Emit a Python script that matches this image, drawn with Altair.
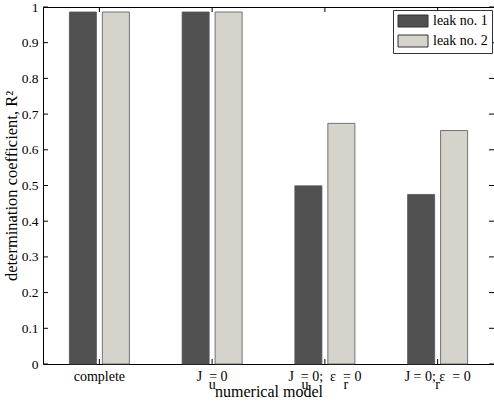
import json
import altair as alt
import pandas as pd

NB = "\u00a0"
models = ["complete", "J_u = 0", "J_u = 0; eps_r = 0", "J = 0; eps_r = 0"]
# tick labels: main line and subscript line (subscripts u and r set below the line)
label_main = ["complete",
              "J" + NB * 2 + "= 0" + NB * 2,
              NB * 4 + "J" + NB * 2 + "= 0;" + NB * 2 + "ε" + NB * 2 + "= 0",
              NB * 5 + "J = 0;" + NB + "ε" + NB * 2 + "= 0"]
label_sub = ["",
             "u" + NB * 6,
             "u" + NB * 10 + "r",
             NB * 10 + "r"]
series = ["leak no. 1", "leak no. 2"]
leak1 = [0.986, 0.986, 0.499, 0.475]
leak2 = [0.986, 0.986, 0.674, 0.654]
y_ticks = [0, 0.1, 0.2, 0.3, 0.4, 0.5, 0.6, 0.7, 0.8, 0.9, 1]

rows = []
for m, a, b in zip(models, leak1, leak2):
    rows.append({"model": m, "series": series[0], "r2": a})
    rows.append({"model": m, "series": series[1], "r2": b})
df = pd.DataFrame(rows)
ydf = pd.DataFrame({"v": y_ticks})
xdf = pd.DataFrame({"model": models})

lab_map = json.dumps({m: [a, b] for m, a, b in zip(models, label_main, label_sub)}, ensure_ascii=False)

W, H = 451, 357
FONT = "Liberation Serif"

xscale = alt.Scale(domain=models, paddingInner=0, paddingOuter=0)
yscale = alt.Scale(domain=[0, 1], nice=False, zero=True)

xaxis = alt.Axis(title="numerical model", ticks=False, labelAngle=0,
                 labelPadding=5, labelFontSize=14, labelLineHeight=8,
                 labelExpr=lab_map + "[datum.value]",
                 titleBaseline="alphabetic", titleY=32, titleFontSize=16,
                 domain=False)
yaxis = alt.Axis(title="determination coefficient, R²", values=y_ticks, ticks=False,
                 labelPadding=5, titlePadding=2, domain=False, grid=False,
                 labelOverlap=False, labelFontSize=13.5, titleFontSize=16.5,
                 labelExpr="datum.value == 0 ? '0' : datum.value == 1 ? '1' : format(datum.value, '.1f')")

bars = alt.Chart(df).mark_bar(stroke="#555555", strokeWidth=0.8).encode(
    x=alt.X("model:N", scale=xscale, sort=models, axis=xaxis),
    xOffset=alt.XOffset("series:N", scale=alt.Scale(domain=series, paddingInner=0.18, paddingOuter=0.8)),
    y=alt.Y("r2:Q", scale=yscale, axis=yaxis),
    color=alt.Color("series:N", scale=alt.Scale(domain=series, range=["#505050", "#d5d3cb"]),
                    legend=alt.Legend(title=None, orient="none", legendX=350, legendY=3,
                                      symbolType="M-2.5,-1H2.5V1H-2.5Z", symbolSize=144,
                                      symbolStrokeColor="#333333", symbolStrokeWidth=1,
                                      symbolOffset=9, labelOffset=13,
                                      labelFont=FONT, labelFontSize=14, labelColor="black",
                                      strokeColor="#333333", fillColor="white",
                                      padding=4, rowPadding=4)),
)

lt = alt.Chart(ydf).mark_rule(color="black", strokeWidth=1).encode(
    y=alt.Y("v:Q", scale=yscale, axis=yaxis), x=alt.value(0), x2=alt.value(5))
rt = alt.Chart(ydf).mark_rule(color="black", strokeWidth=1).encode(
    y=alt.Y("v:Q", scale=yscale, axis=yaxis), x=alt.value(W - 5), x2=alt.value(W))
bt = alt.Chart(xdf).mark_rule(color="black", strokeWidth=1).encode(
    x=alt.X("model:N", scale=xscale, sort=models, axis=xaxis), y=alt.value(H - 5), y2=alt.value(H))
tt = alt.Chart(xdf).mark_rule(color="black", strokeWidth=1).encode(
    x=alt.X("model:N", scale=xscale, sort=models, axis=xaxis), y=alt.value(0), y2=alt.value(5))

chart = alt.layer(bars, lt, rt, bt, tt).properties(
    width=W, height=H,
    autosize=alt.AutoSizeParams(type="none"),
    padding={"left": 43, "top": 7, "right": 0, "bottom": 37},
).configure_view(stroke="black", strokeWidth=1).configure_axis(
    labelFont=FONT, titleFont=FONT,
    labelColor="black", titleColor="black", titleFontWeight="normal"
)

chart.save("out.html", embed_options={"renderer": "svg", "actions": False})
